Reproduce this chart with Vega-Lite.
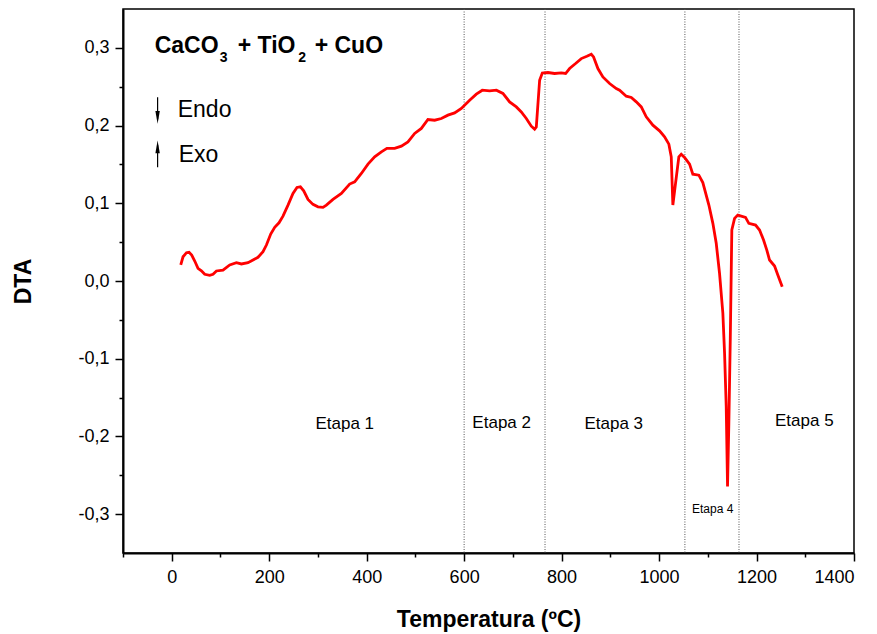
{
  "$schema": "https://vega.github.io/schema/vega-lite/v6.json",
  "width": 731,
  "height": 544,
  "autosize": "none",
  "padding": {"left": 123, "top": 9, "right": 23, "bottom": 81},
  "background": "white",
  "config": {
    "view": {"stroke": "black", "strokeWidth": 1.5},
    "font": "Liberation Sans",
    "axis": {"grid": false, "domainColor": "black", "domainWidth": 2, "tickColor": "black", "tickWidth": 1.5, "labelColor": "black", "titleColor": "black", "labelFont": "Liberation Sans", "titleFont": "Liberation Sans"}
  },
  "datasets": {
    "dta": [
      {"T": 18.5, "DTA": 0.0206}, {"T": 23.2, "DTA": 0.0312}, {"T": 30.2, "DTA": 0.0364}, {"T": 35.5, "DTA": 0.0369},
      {"T": 41.0, "DTA": 0.0334}, {"T": 47.2, "DTA": 0.0257}, {"T": 53.9, "DTA": 0.0163}, {"T": 60.9, "DTA": 0.0132},
      {"T": 67.7, "DTA": 0.0086}, {"T": 77.9, "DTA": 0.0073}, {"T": 84.7, "DTA": 0.0086}, {"T": 91.7, "DTA": 0.0129},
      {"T": 105.2, "DTA": 0.0141}, {"T": 119.0, "DTA": 0.0206}, {"T": 132.7, "DTA": 0.0235}, {"T": 143.0, "DTA": 0.0219},
      {"T": 156.5, "DTA": 0.0235}, {"T": 166.8, "DTA": 0.0270}, {"T": 177.0, "DTA": 0.0305}, {"T": 187.3, "DTA": 0.0377},
      {"T": 194.3, "DTA": 0.0463}, {"T": 203.1, "DTA": 0.0604}, {"T": 211.3, "DTA": 0.0690}, {"T": 220.1, "DTA": 0.0749},
      {"T": 228.3, "DTA": 0.0835}, {"T": 238.6, "DTA": 0.0977}, {"T": 248.8, "DTA": 0.1127}, {"T": 257.0, "DTA": 0.1204},
      {"T": 264.0, "DTA": 0.1212}, {"T": 270.8, "DTA": 0.1161}, {"T": 279.6, "DTA": 0.1050}, {"T": 289.8, "DTA": 0.0986},
      {"T": 300.1, "DTA": 0.0955}, {"T": 310.4, "DTA": 0.0947}, {"T": 317.3, "DTA": 0.0977}, {"T": 330.9, "DTA": 0.1050},
      {"T": 348.1, "DTA": 0.1127}, {"T": 365.1, "DTA": 0.1247}, {"T": 375.4, "DTA": 0.1276}, {"T": 389.1, "DTA": 0.1384},
      {"T": 402.7, "DTA": 0.1504}, {"T": 416.4, "DTA": 0.1598}, {"T": 430.2, "DTA": 0.1662}, {"T": 441.6, "DTA": 0.1706},
      {"T": 457.4, "DTA": 0.1706}, {"T": 471.2, "DTA": 0.1735}, {"T": 484.7, "DTA": 0.1790}, {"T": 498.5, "DTA": 0.1898},
      {"T": 512.2, "DTA": 0.1963}, {"T": 525.7, "DTA": 0.2078}, {"T": 539.5, "DTA": 0.2069}, {"T": 553.2, "DTA": 0.2091},
      {"T": 566.8, "DTA": 0.2134}, {"T": 580.5, "DTA": 0.2163}, {"T": 594.3, "DTA": 0.2220}, {"T": 611.3, "DTA": 0.2326},
      {"T": 625.0, "DTA": 0.2404}, {"T": 637.3, "DTA": 0.2455}, {"T": 652.3, "DTA": 0.2446}, {"T": 666.1, "DTA": 0.2455},
      {"T": 679.6, "DTA": 0.2413}, {"T": 693.3, "DTA": 0.2305}, {"T": 707.1, "DTA": 0.2240}, {"T": 717.3, "DTA": 0.2176},
      {"T": 727.6, "DTA": 0.2091}, {"T": 737.8, "DTA": 0.1992}, {"T": 744.6, "DTA": 0.1954}, {"T": 748.1, "DTA": 0.1983},
      {"T": 754.9, "DTA": 0.2584}, {"T": 760.4, "DTA": 0.2677}, {"T": 771.9, "DTA": 0.2683}, {"T": 785.6, "DTA": 0.2670},
      {"T": 799.4, "DTA": 0.2677}, {"T": 808.2, "DTA": 0.2670}, {"T": 816.4, "DTA": 0.2734}, {"T": 828.7, "DTA": 0.2798},
      {"T": 840.4, "DTA": 0.2862}, {"T": 851.9, "DTA": 0.2892}, {"T": 860.9, "DTA": 0.2918}, {"T": 865.6, "DTA": 0.2883},
      {"T": 874.5, "DTA": 0.2734}, {"T": 884.7, "DTA": 0.2626}, {"T": 898.5, "DTA": 0.2541}, {"T": 912.2, "DTA": 0.2477},
      {"T": 919.0, "DTA": 0.2455}, {"T": 932.7, "DTA": 0.2378}, {"T": 943.0, "DTA": 0.2361}, {"T": 953.2, "DTA": 0.2305},
      {"T": 963.5, "DTA": 0.2240}, {"T": 973.7, "DTA": 0.2112}, {"T": 987.3, "DTA": 0.2005}, {"T": 1001.0, "DTA": 0.1932},
      {"T": 1011.3, "DTA": 0.1855}, {"T": 1020.1, "DTA": 0.1761}, {"T": 1025.0, "DTA": 0.1598}, {"T": 1028.3, "DTA": 0.0977},
      {"T": 1033.8, "DTA": 0.1256}, {"T": 1040.6, "DTA": 0.1598}, {"T": 1045.5, "DTA": 0.1632}, {"T": 1052.3, "DTA": 0.1590},
      {"T": 1062.6, "DTA": 0.1504}, {"T": 1069.3, "DTA": 0.1375}, {"T": 1081.6, "DTA": 0.1362}, {"T": 1089.8, "DTA": 0.1266},
      {"T": 1102.2, "DTA": 0.0977}, {"T": 1110.4, "DTA": 0.0742}, {"T": 1117.3, "DTA": 0.0485}, {"T": 1124.1, "DTA": 0.0099},
      {"T": 1130.9, "DTA": -0.0415}, {"T": 1134.4, "DTA": -0.0929}, {"T": 1137.8, "DTA": -0.1616}, {"T": 1140.5, "DTA": -0.2644},
      {"T": 1143.2, "DTA": -0.1829}, {"T": 1146.1, "DTA": -0.0758}, {"T": 1149.3, "DTA": 0.0656}, {"T": 1154.9, "DTA": 0.0806},
      {"T": 1161.6, "DTA": 0.0848}, {"T": 1177.4, "DTA": 0.0819}, {"T": 1184.2, "DTA": 0.0742}, {"T": 1198.0, "DTA": 0.0720},
      {"T": 1206.2, "DTA": 0.0656}, {"T": 1214.4, "DTA": 0.0527}, {"T": 1221.1, "DTA": 0.0398}, {"T": 1226.7, "DTA": 0.0270},
      {"T": 1237.0, "DTA": 0.0193}, {"T": 1243.7, "DTA": 0.0077}, {"T": 1252.7, "DTA": -0.0073}
    ],
    "stages": [{"T": 600}, {"T": 766}, {"T": 1053}, {"T": 1164}],
    "etapas": [
      {"T": 355, "DTA": -0.184, "label": "Etapa 1"},
      {"T": 677, "DTA": -0.1825, "label": "Etapa 2"},
      {"T": 907, "DTA": -0.184, "label": "Etapa 3"},
      {"T": 1298, "DTA": -0.180, "label": "Etapa 5"}
    ],
    "etapa4": [{"T": 1110, "DTA": -0.294, "label": "Etapa 4"}],
    "titleMain": [
      {"T": -35, "DTA": 0.302, "label": "CaCO"},
      {"T": 135.4, "DTA": 0.302, "label": "+ TiO"},
      {"T": 293.3, "DTA": 0.302, "label": "+ CuO"}
    ],
    "titleSub": [
      {"T": 98.5, "DTA": 0.287, "label": "3"},
      {"T": 259.5, "DTA": 0.287, "label": "2"}
    ],
    "arrowShafts": [
      {"T": -29, "top": 0.2365, "bottom": 0.208},
      {"T": -29, "top": 0.175, "bottom": 0.1465}
    ],
    "headDown": [{"T": -29, "DTA": 0.2105}],
    "headUp": [{"T": -29, "DTA": 0.1725}],
    "endoexo": [
      {"T": 12.3, "DTA": 0.22, "label": "Endo"},
      {"T": 14.4, "DTA": 0.162, "label": "Exo"}
    ]
  },
  "layer": [
    {
      "data": {"name": "stages"},
      "mark": {"type": "rule", "color": "#555555", "strokeWidth": 1, "strokeDash": [1, 1.5]},
      "encoding": {
        "x": {"field": "T", "type": "quantitative", "scale": {"domain": [-100, 1400], "nice": false, "zero": false}}
      }
    },
    {
      "data": {"name": "dta"},
      "mark": {"type": "line", "color": "#ff0000", "strokeWidth": 2.8},
      "encoding": {
        "x": {
          "field": "T", "type": "quantitative",
          "scale": {"domain": [-100, 1400], "nice": false, "zero": false},
          "axis": {
            "title": "Temperatura (ºC)",
            "values": [-100, 0, 100, 200, 300, 400, 500, 600, 700, 800, 900, 1000, 1100, 1200, 1300, 1400],
            "labelExpr": "datum.value % 200 === 0 ? format(datum.value, 'd') : ''",
            "tickSize": {"condition": {"test": "datum.value % 200 === 0", "value": 8}, "value": 4},
            "labelFontSize": 18,
            "labelPadding": 7,
            "titleFontSize": 23,
            "titleFontWeight": "bold",
            "titlePadding": 22
          }
        },
        "y": {
          "field": "DTA", "type": "quantitative",
          "scale": {"domain": [-0.35, 0.35], "nice": false, "zero": false},
          "axis": {
            "title": "DTA",
            "values": [-0.3, -0.25, -0.2, -0.15, -0.1, -0.05, 0, 0.05, 0.1, 0.15, 0.2, 0.25, 0.3],
            "labelExpr": "abs(datum.value * 10 - round(datum.value * 10)) < 0.001 ? replace(replace(format(datum.value, '.1f'), '.', ','), '−', '-') : ''",
            "tickSize": {"condition": {"test": "abs(datum.value * 10 - round(datum.value * 10)) < 0.001", "value": 8}, "value": 4},
            "labelFontSize": 18,
            "labelPadding": 6,
            "titleFontSize": 23,
            "titleFontWeight": "bold",
            "titlePadding": 42
          }
        }
      }
    },
    {
      "data": {"name": "etapas"},
      "mark": {"type": "text", "fontSize": 17, "align": "center", "baseline": "middle", "color": "black"},
      "encoding": {
        "x": {"field": "T", "type": "quantitative"},
        "y": {"field": "DTA", "type": "quantitative"},
        "text": {"field": "label"}
      }
    },
    {
      "data": {"name": "etapa4"},
      "mark": {"type": "text", "fontSize": 12, "align": "center", "baseline": "middle", "color": "black"},
      "encoding": {
        "x": {"field": "T", "type": "quantitative"},
        "y": {"field": "DTA", "type": "quantitative"},
        "text": {"field": "label"}
      }
    },
    {
      "data": {"name": "titleMain"},
      "mark": {"type": "text", "fontSize": 23, "fontWeight": "bold", "align": "left", "baseline": "middle", "color": "black"},
      "encoding": {
        "x": {"field": "T", "type": "quantitative"},
        "y": {"field": "DTA", "type": "quantitative"},
        "text": {"field": "label"}
      }
    },
    {
      "data": {"name": "titleSub"},
      "mark": {"type": "text", "fontSize": 14, "fontWeight": "bold", "align": "left", "baseline": "middle", "color": "black"},
      "encoding": {
        "x": {"field": "T", "type": "quantitative"},
        "y": {"field": "DTA", "type": "quantitative"},
        "text": {"field": "label"}
      }
    },
    {
      "data": {"name": "arrowShafts"},
      "mark": {"type": "rule", "color": "black", "strokeWidth": 1.2},
      "encoding": {
        "x": {"field": "T", "type": "quantitative"},
        "y": {"field": "top", "type": "quantitative"},
        "y2": {"field": "bottom"}
      }
    },
    {
      "data": {"name": "headDown"},
      "mark": {"type": "point", "shape": "M-0.35,-1L0.35,-1L0,1Z", "filled": true, "color": "black", "opacity": 1, "size": 160},
      "encoding": {
        "x": {"field": "T", "type": "quantitative"},
        "y": {"field": "DTA", "type": "quantitative"}
      }
    },
    {
      "data": {"name": "headUp"},
      "mark": {"type": "point", "shape": "M-0.35,1L0.35,1L0,-1Z", "filled": true, "color": "black", "opacity": 1, "size": 160},
      "encoding": {
        "x": {"field": "T", "type": "quantitative"},
        "y": {"field": "DTA", "type": "quantitative"}
      }
    },
    {
      "data": {"name": "endoexo"},
      "mark": {"type": "text", "fontSize": 23, "align": "left", "baseline": "middle", "color": "black"},
      "encoding": {
        "x": {"field": "T", "type": "quantitative"},
        "y": {"field": "DTA", "type": "quantitative"},
        "text": {"field": "label"}
      }
    }
  ]
}
